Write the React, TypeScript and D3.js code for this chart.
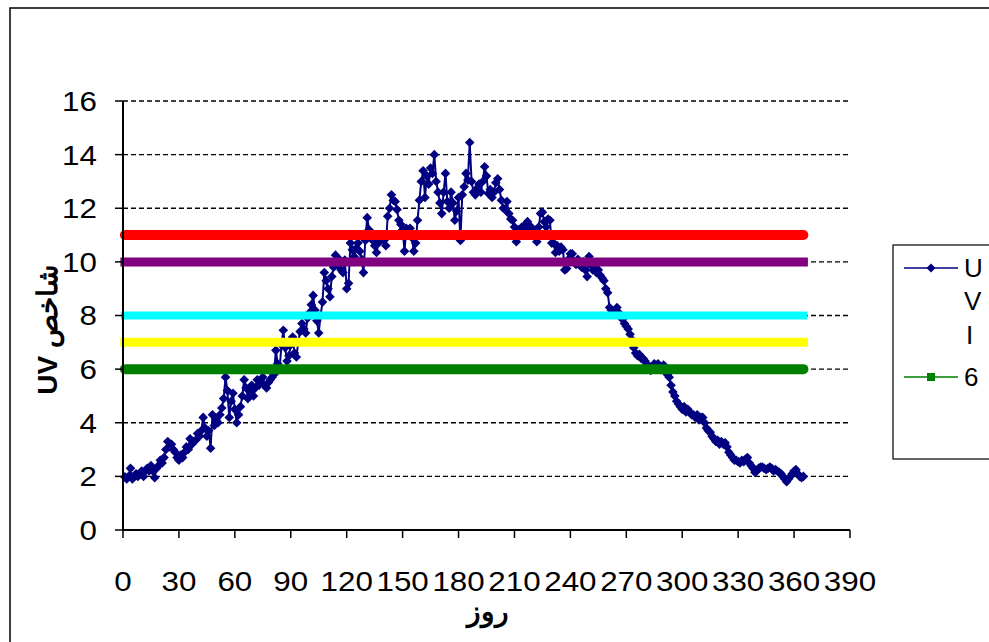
import React from "react";
import * as d3 from "d3";

const uvi: number[] = [
  1.98, 1.9, 2.0, 2.3, 1.9, 2.0, 2.1, 2.0, 2.1, 2.2,
  2.0, 2.2, 2.3, 2.2, 2.4, 2.2, 1.95, 2.3, 2.4, 2.6,
  2.5, 2.7, 3.0, 3.3, 3.1, 3.2, 3.0, 2.9, 2.7, 2.6,
  2.8, 2.7, 2.9, 3.1, 3.0, 3.4, 3.2, 3.3, 3.35, 3.6,
  3.5, 3.7, 4.2, 3.8, 3.5, 3.7, 3.05, 4.3, 3.9, 4.1,
  4.0, 4.3, 4.55, 4.9, 5.7, 5.2, 4.2, 4.8, 5.1, 4.5,
  4.0, 4.3, 4.6, 5.0, 5.6, 5.3, 4.9, 5.2, 5.4, 5.0,
  5.3, 5.6, 5.4, 5.5, 5.7, 5.4, 5.3, 5.5, 5.6, 5.7,
  5.8, 6.7, 6.2, 6.0, 6.9, 7.45, 6.8, 6.3, 6.5, 6.9,
  7.2, 6.6, 6.45, 7.0, 7.4, 7.7, 7.5, 7.35, 7.9, 8.1,
  8.4, 8.75, 8.2, 7.8, 7.35, 8.0, 8.5, 9.6, 9.3, 9.0,
  8.7, 9.45, 9.8, 10.25, 9.9, 10.1, 9.7, 9.6, 10.07, 9.0,
  9.2, 10.7, 10.45, 10.2, 10.5, 10.7, 10.4, 10.1, 9.6, 10.8,
  11.65, 11.2, 11.0, 10.8, 10.6, 10.35, 10.7, 10.9, 11.0, 10.8,
  10.6, 11.7, 12.0, 12.5, 12.3, 12.25, 11.95, 11.55, 11.4, 11.2,
  10.4, 11.25, 11.0, 11.25, 10.9, 10.4, 10.7, 11.55, 12.3, 13.0,
  13.4, 12.4, 13.2, 12.9, 13.5, 13.3, 14.0, 13.0, 12.6, 12.2,
  11.8, 12.6, 13.3, 12.25, 12.0, 12.6, 12.2, 11.55, 11.9, 12.4,
  10.8, 12.5, 12.8, 13.3, 13.05, 14.45, 13.0, 12.6, 12.5, 12.75,
  12.9, 12.6, 13.0, 13.55, 13.2, 12.55, 12.7, 12.4, 12.6, 12.95,
  13.1, 12.7, 12.3, 12.0, 11.95, 12.25, 11.8, 11.6, 11.55, 11.3,
  10.75, 11.2, 11.0, 11.3, 11.2, 11.4, 11.5, 11.2, 11.3, 11.0,
  11.1, 10.75, 11.3, 11.8, 11.85, 11.5, 11.3, 11.6, 11.55, 10.7,
  10.7, 10.35, 10.6, 10.4, 10.55, 10.45, 9.7, 9.75, 10.1, 10.3,
  10.3, 10.0, 9.9, 10.1, 9.9, 9.8, 10.0, 9.7, 9.45, 10.2,
  9.9, 9.7, 9.8, 9.6, 9.7, 9.5, 9.4, 9.3, 9.0, 8.85,
  8.3, 8.2, 8.1, 8.2, 8.3, 8.1, 8.0, 7.85, 7.7, 7.6,
  7.5, 7.3, 7.1, 6.8, 6.6, 6.5, 6.55, 6.4, 6.4, 6.3,
  6.2, 6.1, 5.95, 6.1, 6.2, 6.1, 6.2, 6.1, 6.0, 6.15,
  5.9, 5.8, 5.7, 5.4, 5.15, 5.0, 4.8, 4.7, 4.6, 4.5,
  4.6, 4.4, 4.5, 4.4, 4.3, 4.3, 4.2, 4.3, 4.1, 4.2,
  4.2, 4.0, 3.8, 3.7, 3.65, 3.5, 3.4, 3.3, 3.35, 3.2,
  3.3, 3.2, 3.25, 3.1, 2.9, 2.8, 2.7, 2.6, 2.6, 2.55,
  2.5, 2.6, 2.55, 2.65, 2.7, 2.5, 2.4, 2.3, 2.15, 2.2,
  2.3, 2.35, 2.35, 2.3, 2.25, 2.3, 2.35, 2.3, 2.2, 2.25,
  2.2, 2.15, 2.1, 2.0, 1.9, 1.8, 1.9, 2.0, 2.1, 2.2,
  2.25, 2.1, 2.0, 1.95, 2.0,
];

const thresholdLevels = [11, 10, 8, 7, 6];
const thresholdColors = ["#FF0000", "#800080", "#00FFFF", "#FFFF00", "#008000"];
const thresholdWidths = [10, 9, 8, 9, 10];
const xTicks = [0, 30, 60, 90, 120, 150, 180, 210, 240, 270, 300, 330, 360, 390];
const yTicks = [0, 2, 4, 6, 8, 10, 12, 14, 16];
const firstDay = 1;
const lastDay = 365;

const FONT = "Arial, 'Liberation Sans', sans-serif";

export default function App() {
  const x = d3.scaleLinear().domain([0, 390]).range([123, 850]);
  const y = d3.scaleLinear().domain([0, 16]).range([530, 101]);
  const pts = uvi.map((v, i) => [x(i + 1), y(v)] as [number, number]);
  const line = d3.line<[number, number]>()(pts) || "";
  const diamond = (cx: number, cy: number, r: number) =>
    `M${cx},${cy - r}L${cx + r},${cy}L${cx},${cy + r}L${cx - r},${cy}Z`;

  return (
    <svg
      width={989}
      height={642}
      style={{ position: "absolute", left: 0, top: 0, background: "#fff" }}
      fontFamily={FONT}
    >
      <rect x={0} y={0} width={989} height={642} fill="#fff" />
      <rect x={10} y={8} width={1000} height={700} fill="none" stroke="#000" strokeWidth={1.5} />

      {yTicks.filter((t) => t > 0).map((t) => (
        <line key={"g" + t} x1={x(0)} x2={x(390)} y1={y(t)} y2={y(t)} stroke="#000" strokeWidth={1.3} strokeDasharray="5,3" />
      ))}

      <path d={line} fill="none" stroke="#000080" strokeWidth={2} />
      {pts.map((p, i) => (
        <path key={"m" + i} d={diamond(p[0], p[1], 4.8)} fill="#000080" />
      ))}

      {thresholdLevels.map((lv, i) => (
        <line
          key={"t" + lv}
          x1={x(firstDay)}
          x2={x(lastDay)}
          y1={y(lv)}
          y2={y(lv)}
          stroke={thresholdColors[i]}
          strokeWidth={thresholdWidths[i]}
          strokeLinecap={lv === 11 || lv === 6 ? "round" : "square"}
        />
      ))}

      <line x1={x(0)} x2={x(0)} y1={y(0) + 1} y2={y(16)} stroke="#000" strokeWidth={2} />
      <line x1={x(0) - 1} x2={x(390)} y1={y(0)} y2={y(0)} stroke="#000" strokeWidth={2} />
      {yTicks.map((t) => (
        <g key={"y" + t}>
          <line x1={x(0) - 8} x2={x(0)} y1={y(t)} y2={y(t)} stroke="#000" strokeWidth={1.5} />
          <text
            transform={`translate(97,${y(t)}) scale(1.12,1)`}
            textAnchor="end"
            dominantBaseline="central"
            fontSize={28}
          >
            {t}
          </text>
        </g>
      ))}
      {xTicks.map((t) => (
        <g key={"x" + t}>
          <line x1={x(t)} x2={x(t)} y1={y(0)} y2={y(0) + 8} stroke="#000" strokeWidth={1.5} />
          <text
            transform={`translate(${x(t)},591) scale(1.12,1)`}
            textAnchor="middle"
            fontSize={28}
          >
            {t}
          </text>
        </g>
      ))}

      <text x={488} y={621} textAnchor="middle" fontSize={28} fontWeight="bold">
        روز
      </text>
      <text
        transform="translate(57,330) rotate(-90)"
        textAnchor="middle"
        fontSize={28}
        fontWeight="bold"
      >
        UV شاخص
      </text>

      <rect x={893} y={245} width={120} height={214} fill="#fff" stroke="#000" strokeWidth={1.2} />
      <line x1={904} x2={958} y1={268} y2={268} stroke="#000080" strokeWidth={1.5} />
      <path d={diamond(931, 268, 4.5)} fill="#000080" />
      <text x={964} y={268} dominantBaseline="central" fontSize={26}>U</text>
      <text x={964} y={301} dominantBaseline="central" fontSize={26}>V</text>
      <text x={966} y={335} dominantBaseline="central" fontSize={26}>I</text>
      <line x1={904} x2={958} y1={377} y2={377} stroke="#008000" strokeWidth={1.5} />
      <rect x={927} y={373} width={8} height={8} fill="#008000" />
      <text x={964} y={377} dominantBaseline="central" fontSize={26}>6</text>
    </svg>
  );
}
